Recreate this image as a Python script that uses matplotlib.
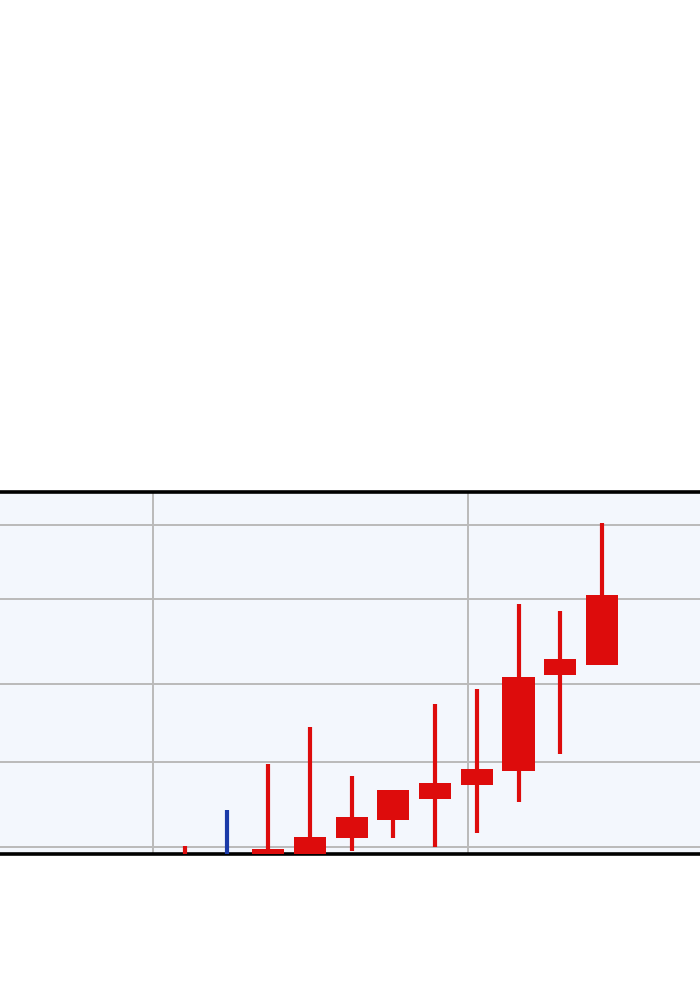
import numpy as np
import matplotlib
matplotlib.use("Agg")
import matplotlib.pyplot as plt

# candle data (price units)
opens = [-1.8, -1.2, -1.5, -1.5, 1.08, 3.32, 5.96, 7.70, 9.48, 21.37, 22.61]
closes = [-1.2, -1.8, -0.29, 1.2, 3.76, 7.08, 7.91, 9.69, 21.16, 23.35, 31.30]
highs = [0.12, 4.6, 10.27, 14.94, 8.86, 7.08, 17.76, 19.59, 30.15, 29.35, 40.29]
lows = [-2.0, -2.0, -2.0, -2.0, -0.46, 1.08, 0.04, 1.78, 5.63, 11.55, 22.61]
y_ticks = [0, 10.56, 20.25, 30.81, 40]
x_ticks = [-0.77, 6.79]

up_color = "#dd0c0c"
down_color = "#1a3aa8"

fig = plt.figure(figsize=(7, 10), dpi=100)
ax = fig.add_axes([0.0, 0.146, 1.0, 0.362])
ax.set_facecolor("#f3f7fd")

x = np.arange(len(opens))
colors = [up_color if c >= o else down_color for o, c in zip(opens, closes)]

# wicks then bodies
ax.vlines(x, lows, highs, colors=colors, linewidth=3.0, zorder=3)
bottoms = np.minimum(opens, closes)
heights = np.abs(np.array(closes) - np.array(opens))
ax.bar(x, heights, bottom=bottoms, width=0.77, color=colors, zorder=4)

ax.set_xlim(-4.43, 12.35)
ax.set_ylim(-0.87, 44.1)
ax.set_xticks(x_ticks)
ax.set_yticks(y_ticks)
ax.tick_params(left=False, bottom=False, labelleft=False, labelbottom=False)
ax.grid(True, color="#bababa", linewidth=1.4, zorder=0)
ax.set_axisbelow(True)

for side in ["left", "right"]:
    ax.spines[side].set_visible(False)
for side in ["top", "bottom"]:
    ax.spines[side].set_linewidth(2.6)
    ax.spines[side].set_color("black")

fig.savefig("out.png", dpi=100)
